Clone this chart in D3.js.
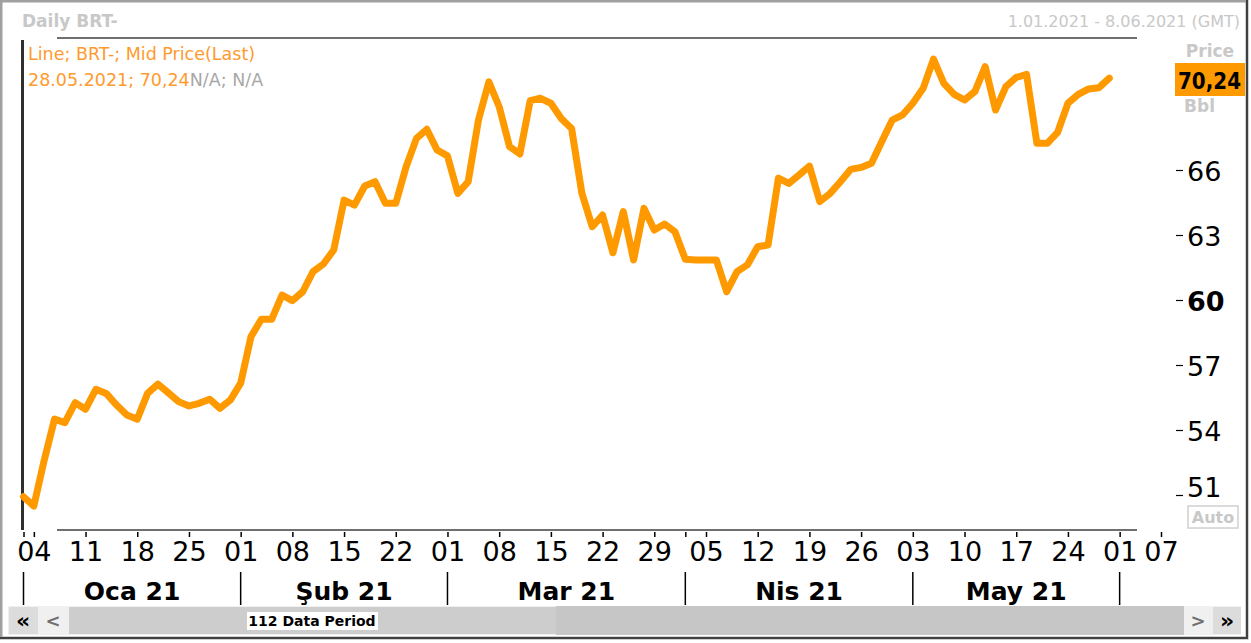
<!DOCTYPE html>
<html>
  <head>
    <meta charset="utf-8">
    <script src="https://d3js.org/d3.v7.min.js"></script>
  </head>
  <style>
body { margin: 0; background: #ffffff; }
text { font-family: "DejaVu Sans", sans-serif; }
  </style>
  <body>
    <div id="my_chart"></div>
    <script type="text/javascript">
        // trading days shown on the axis (weekends and this holiday left out)
        var firstDay = "2021-01-01", lastDay = "2021-06-07";
        var holidays = ["2021-05-31"];

        // mid price (last), one value per trading day 01.01 - 28.05
        var janPrices = [50.92, 50.49, 52.6, 54.5, 54.34, 55.26, 54.96, 55.88, 55.69, 55.15, 54.69,
                         54.5, 55.69, 56.12, 55.72, 55.31, 55.11, 55.23, 55.42, 55.0, 55.38];
        var febPrices = [56.16, 58.31, 59.11, 59.11, 60.23, 59.97, 60.38, 61.31, 61.66, 62.31,
                         64.61, 64.38, 65.26, 65.46, 64.46, 64.46, 66.15, 67.46, 67.88, 66.92];
        var marPrices = [66.65, 64.92, 65.46, 68.31, 70.07, 68.92, 67.08, 66.74, 69.2, 69.31, 69.08, 68.38,
                         67.92, 64.92, 63.38, 63.92, 62.18, 64.08, 61.85, 64.23, 63.23, 63.51, 63.15];
        var aprPrices = [61.88, 61.85, 61.85, 61.85, 60.38, 61.31, 61.62, 62.46, 62.54, 65.62, 65.38,
                         65.77, 66.18, 64.54, 64.92, 65.46, 66.03, 66.12, 66.31, 67.31, 68.3, 68.54];
        var mayPrices = [69.08, 69.77, 71.12, 70.0, 69.49, 69.23, 69.62, 70.77, 68.77, 69.85,
                         70.27, 70.41, 67.23, 67.23, 67.74, 69.08, 69.49, 69.74, 69.8, 70.24];

        var monthLabels = ["Oca 21", "Şub 21", "Mar 21", "Nis 21", "May 21"];
        var priceTicks = [51, 54, 57, 60, 63, 66];
        var boldTicks = [60];
        var lastValue = "70,24";

        var width = 1251, height = 643;
        var parse = d3.timeParse("%Y-%m-%d"), fmt = d3.timeFormat("%Y-%m-%d");

        var days = d3.timeDay.range(parse(firstDay), d3.timeDay.offset(parse(lastDay), 1))
            .filter(function(d) { return d.getDay() % 6 !== 0 && holidays.indexOf(fmt(d)) < 0; });
        var prices = janPrices.concat(febPrices, marPrices, aprPrices, mayPrices);
        var data = prices.map(function(p, i) { return {day: days[i], price: p}; });

        var svg = d3.select("#my_chart")
            .append("svg")
                .attr("width", width)
                .attr("height", height);

        // frame
        svg.append("rect").attr("x", 0).attr("y", 0).attr("width", width).attr("height", height).attr("fill", "#ffffff");
        svg.append("rect").attr("x", 1).attr("y", 1).attr("width", 1246).attr("height", 637)
            .attr("fill", "none").attr("stroke", "#a0a0a0").attr("stroke-width", 3);
        svg.append("line").attr("x1", 1247).attr("x2", 1247).attr("y1", 0).attr("y2", 639).attr("stroke", "#404040").attr("stroke-width", 2);
        svg.append("line").attr("x1", 0).attr("x2", 1248).attr("y1", 638).attr("y2", 638).attr("stroke", "#404040").attr("stroke-width", 2);

        var x = d3.scalePoint()
            .domain(days.map(fmt))
            .range([23.5, 1161]);
        var y = d3.scaleLinear()
            .domain([51, 66])
            .range([495, 170]);

        // header
        svg.append("text").attr("x", 22).attr("y", 27).attr("font-size", 17).attr("font-weight", "bold")
            .attr("fill", "#c8c8c8").text("Daily BRT-");
        svg.append("text").attr("x", 1240).attr("y", 27).attr("font-size", 16).attr("text-anchor", "end")
            .attr("fill", "#c8c8c8").text("1.01.2021 - 8.06.2021 (GMT)");

        // plot borders
        svg.append("line").attr("x1", 57).attr("x2", 1137).attr("y1", 38).attr("y2", 38).attr("stroke", "#707070").attr("stroke-width", 2);
        svg.append("line").attr("x1", 57).attr("x2", 1137).attr("y1", 530).attr("y2", 530).attr("stroke", "#707070").attr("stroke-width", 2);
        svg.append("line").attr("x1", x(fmt(days[0])) - 1).attr("x2", x(fmt(days[0])) - 1).attr("y1", 40).attr("y2", 530)
            .attr("stroke", "#303030").attr("stroke-width", 3);

        // legend text
        svg.append("text").attr("x", 28).attr("y", 60).attr("font-size", 17.5).attr("fill", "#ff9a2e")
            .text("Line; BRT-; Mid Price(Last)");
        var info = svg.append("text").attr("x", 28).attr("y", 86).attr("font-size", 17.5);
        info.append("tspan").attr("fill", "#ff9a2e").text(d3.timeFormat("%d.%m.%Y")(data[data.length - 1].day) + "; " + lastValue);
        info.append("tspan").attr("fill", "#a8a8a8").text("N/A; N/A");

        // price line
        var line = d3.line()
            .x(function(d) { return x(fmt(d.day)); })
            .y(function(d) { return y(d.price); });
        svg.append("path")
            .datum(data)
            .attr("fill", "none")
            .attr("stroke", "#ff9900")
            .attr("stroke-width", 7)
            .attr("stroke-linejoin", "round")
            .attr("stroke-linecap", "round")
            .attr("d", line);

        // right price axis
        var yAxis = svg.append("g")
            .attr("transform", "translate(1176,0)")
            .call(d3.axisRight(y).tickValues(priceTicks).tickSize(7).tickPadding(4));
        yAxis.select(".domain").remove();
        yAxis.selectAll(".tick line").attr("stroke", "#000").attr("stroke-width", 1.2);
        yAxis.selectAll(".tick text")
            .attr("font-family", "DejaVu Sans")
            .attr("font-size", 27)
            .attr("fill", "#000")
            .attr("font-weight", function(d) { return boldTicks.indexOf(d) >= 0 ? "bold" : "normal"; })
            .attr("dy", function(d) { return y(d) > 480 ? "0.05em" : "0.4em"; });

        svg.append("text").attr("x", 1210).attr("y", 57).attr("font-size", 17).attr("font-weight", "bold")
            .attr("text-anchor", "middle").attr("fill", "#c8c8c8").text("Price");
        svg.append("rect").attr("x", 1175).attr("y", 63).attr("width", 70).attr("height", 33).attr("fill", "#ff9900");
        svg.append("text").attr("x", 1178).attr("y", 89).attr("font-size", 23).attr("font-weight", "bold")
            .attr("textLength", 63).attr("lengthAdjust", "spacingAndGlyphs")
            .attr("fill", "#000").text(lastValue);
        svg.append("text").attr("x", 1184).attr("y", 112).attr("font-size", 17).attr("font-weight", "bold")
            .attr("fill", "#c8c8c8").text("Bbl");
        svg.append("rect").attr("x", 1188).attr("y", 506).attr("width", 50).attr("height", 22)
            .attr("fill", "#fff").attr("stroke", "#d0d0d0").attr("stroke-width", 1.5);
        svg.append("text").attr("x", 1213).attr("y", 523).attr("font-size", 16).attr("font-weight", "bold")
            .attr("text-anchor", "middle").attr("fill", "#c8c8c8").text("Auto");

        // date axis: first trading day of each week gets a label, month starts a tick
        var weekStarts = days.filter(function(d, i) { return i > 0 && d.getDay() < days[i - 1].getDay(); });
        var monthStarts = days.filter(function(d, i) { return i === 0 || d.getMonth() !== days[i - 1].getMonth(); });
        var weekKeys = weekStarts.map(fmt);
        var tickKeys = Array.from(new Set(weekKeys.concat(monthStarts.map(fmt))));

        var xAxis = svg.append("g")
            .attr("transform", "translate(0,532)")
            .call(d3.axisBottom(x).tickValues(tickKeys).tickSize(5).tickPadding(5)
                .tickFormat(function(k) { return weekKeys.indexOf(k) >= 0 ? k.slice(8) : ""; }));
        xAxis.select(".domain").remove();
        xAxis.selectAll(".tick line").attr("stroke", "#000").attr("stroke-width", 1.5);
        xAxis.selectAll(".tick text")
            .attr("font-family", "DejaVu Sans")
            .attr("font-size", 27)
            .attr("fill", "#000");

        // month row
        var monthX = monthStarts.map(function(d) { return x(fmt(d)); });
        svg.append("g").selectAll("line")
            .data(monthX)
            .enter().append("line")
                .attr("x1", function(d) { return d; })
                .attr("x2", function(d) { return d; })
                .attr("y1", 572).attr("y2", 605)
                .attr("stroke", "#000").attr("stroke-width", 1.5);
        svg.append("g").selectAll("text")
            .data(monthLabels)
            .enter().append("text")
                .attr("x", function(d, i) { return (monthX[i] + monthX[i + 1]) / 2; })
                .attr("y", 600)
                .attr("text-anchor", "middle")
                .attr("font-size", 25)
                .attr("font-weight", "bold")
                .attr("fill", "#000")
                .text(function(d) { return d; });

        // scroll bar
        var bar = svg.append("g");
        bar.append("rect").attr("x", 8).attr("y", 606).attr("width", 1233).attr("height", 29).attr("fill", "#f0f0f0");
        bar.append("rect").attr("x", 9).attr("y", 607).attr("width", 29).attr("height", 27).attr("fill", "#dcdcdc");
        bar.append("rect").attr("x", 1213).attr("y", 607).attr("width", 28).attr("height", 27).attr("fill", "#dcdcdc");
        bar.append("rect").attr("x", 69).attr("y", 607).attr("width", 487).attr("height", 27).attr("fill", "#cdcdcd");
        bar.append("rect").attr("x", 556).attr("y", 606).attr("width", 628).attr("height", 29).attr("fill", "#c6c6c6");
        bar.append("rect").attr("x", 247).attr("y", 612).attr("width", 131).attr("height", 18).attr("fill", "#fff");
        bar.append("text").attr("x", 312).attr("y", 626).attr("font-size", 14).attr("font-weight", "bold")
            .attr("text-anchor", "middle").attr("fill", "#000").text("112 Data Period");
        bar.append("text").attr("x", 23).attr("y", 628).attr("font-size", 22).attr("font-weight", "bold")
            .attr("text-anchor", "middle").attr("fill", "#000").text("«");
        bar.append("text").attr("x", 53).attr("y", 627).attr("font-size", 18).attr("font-weight", "bold")
            .attr("text-anchor", "middle").attr("fill", "#707070").text("<");
        bar.append("text").attr("x", 1198).attr("y", 627).attr("font-size", 18).attr("font-weight", "bold")
            .attr("text-anchor", "middle").attr("fill", "#707070").text(">");
        bar.append("text").attr("x", 1227).attr("y", 628).attr("font-size", 22).attr("font-weight", "bold")
            .attr("text-anchor", "middle").attr("fill", "#000").text("»");
    </script>
  </body>
</html>
